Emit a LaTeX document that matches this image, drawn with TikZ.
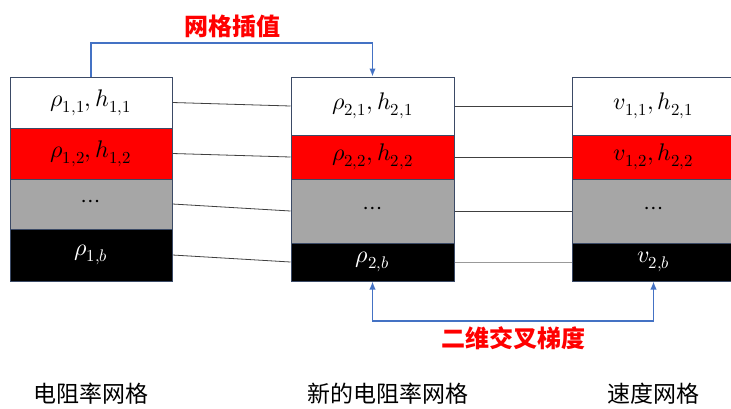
\documentclass[tikz,border=0pt]{standalone}
\usepackage{fontspec}
\usepackage{unicode-math}
\setmathfont{Latin Modern Math}
\newfontfamily\cjk{Noto Sans CJK SC}
\usetikzlibrary{arrows.meta,calc}
\definecolor{frame}{HTML}{3B4A66}
\definecolor{blu}{HTML}{4472C4}
\definecolor{grayrow}{HTML}{A6A6A6}
\definecolor{conn}{HTML}{404040}
\begin{document}
\begin{tikzpicture}[x=1pt,y=-1pt,
  cell/.style={draw=frame,line width=1pt,inner sep=0pt,font=\fontsize{24}{28}\selectfont},
  whiterow/.style={cell,fill=white},
  redrow/.style={cell,fill=red},
  grayr/.style={cell,fill=grayrow},
  blackrow/.style={cell,fill=black,text=white},
  link/.style={draw=conn,line width=0.8pt},
  flow/.style={draw=blu,line width=1.5pt,-{Latex[length=8pt,width=6.5pt]}},
  redlabel/.style={text=red,font=\cjk\bfseries\fontsize{24}{28}\selectfont},
  caption/.style={font=\cjk\fontsize{23}{27}\selectfont}]
\clip (0,0) rectangle (731,408);
\fill[white] (0,0) rectangle (731,408);
% left column
\node[whiterow,minimum width=162pt,minimum height=51pt] (L1) at (91,102.5) {$\rho_{1,1},h_{1,1}$};
\node[redrow,minimum width=162pt,minimum height=51pt] (L2) at (91,153.5) {$\rho_{1,2},h_{1,2}$};
\node[grayr,minimum width=162pt,minimum height=50pt] (L3) at (91,204) {$\cdots$};
\node[blackrow,minimum width=162pt,minimum height=52pt] (L4) at (91,255) {$\rho_{1,b}$};
% middle column
\node[whiterow,minimum width=163pt,minimum height=58pt] (M1) at (372.5,106) {$\rho_{2,1},h_{2,1}$};
\node[redrow,minimum width=163pt,minimum height=44pt] (M2) at (372.5,157) {$\rho_{2,2},h_{2,2}$};
\node[grayr,minimum width=163pt,minimum height=64pt] (M3) at (372.5,211) {$\cdots$};
\node[blackrow,minimum width=163pt,minimum height=38pt] (M4) at (372.5,262) {$\rho_{2,b}$};
% right column
\node[whiterow,minimum width=163pt,minimum height=58pt] (R1) at (653.5,106) {$v_{1,1},h_{2,1}$};
\node[redrow,minimum width=163pt,minimum height=44pt] (R2) at (653.5,157) {$v_{1,2},h_{2,2}$};
\node[grayr,minimum width=163pt,minimum height=64pt] (R3) at (653.5,211) {$\cdots$};
\node[blackrow,minimum width=163pt,minimum height=38pt] (R4) at (653.5,262) {$v_{2,b}$};
% connectors
\draw[link] (L1.east) -- (M1.west);
\draw[link] (L2.east) -- (M2.west);
\draw[link] (L3.east) -- (M3.west);
\draw[link] (L4.east) -- (M4.west);
\draw[link] (M1.east) -- (R1.west);
\draw[link] (M2.east) -- (R2.west);
\draw[link] (M3.east) -- (R3.west);
\draw[link,draw=gray!80] (M4.east) -- (R4.west);
% arrows
\coordinate (ta) at (91,43);
\draw[flow] (L1.north) -- (ta) -| (M1.north);
\coordinate (ba) at (372.5,321);
\draw[flow,{Latex[length=8pt,width=6.5pt]}-{Latex[length=8pt,width=6.5pt]}] (M4.south) -- (ba) -| (R4.south);
% labels
\node[redlabel] (t1) at (232,26) {网格插值};
\node[redlabel] (t2) at (513,338) {二维交叉梯度};
\node[caption] (c1) at (91,394) {电阻率网格};
\node[caption] (c2) at (388,394) {新的电阻率网格};
\node[caption] (c3) at (653,394) {速度网格};
\end{tikzpicture}
\end{document}
